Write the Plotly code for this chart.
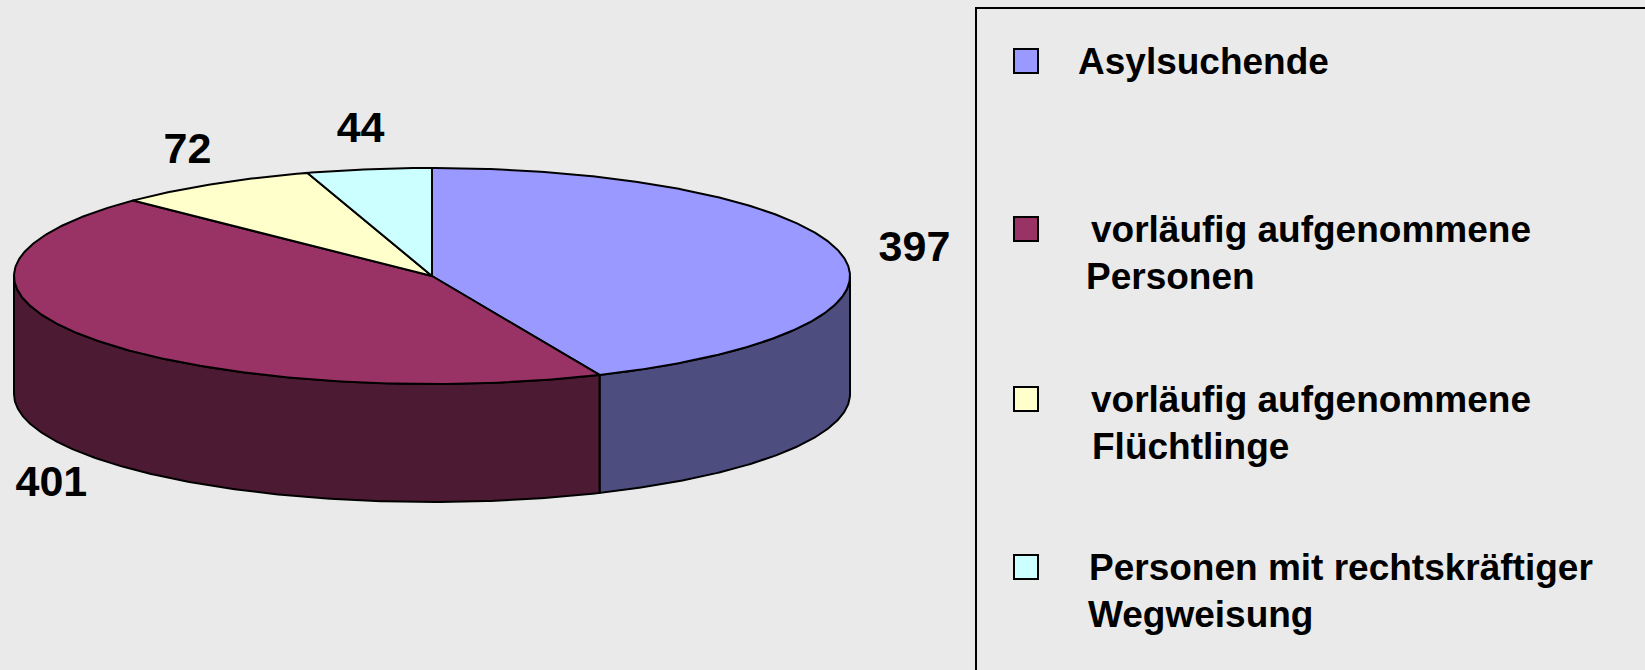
import numpy as np
import plotly.graph_objects as go

# ---- data ----
categories = ["Asylsuchende", "vorläufig aufgenommene Personen",
              "vorläufig aufgenommene Flüchtlinge", "Personen mit rechtskräftiger Wegweisung"]
values = [397, 401, 72, 44]
legend_lines = [["Asylsuchende"], ["vorläufig aufgenommene", "Personen"],
                ["vorläufig aufgenommene", "Flüchtlinge"],
                ["Personen mit rechtskräftiger", "Wegweisung"]]
top_colors = ["#9999FF", "#993366", "#FFFFCC", "#CCFFFF"]
side_colors = ["#4D4D80", "#4D1A33", "#80805F", "#668080"]

# ---- geometry (pixel space) ----
W, H = 1645, 670
CX, CY, A, B, DEPTH = 432, 276, 418, 108, 118
LABEL_DY = 5
BG = "#EAEAEA"
FONT = "Liberation Sans, Arial, sans-serif"


def pt(theta_deg, dy=0.0, kx=1.0, ky=1.0):
    t = np.radians(theta_deg)
    return CX + A * kx * np.sin(t), CY - B * ky * np.cos(t) + dy


def arc(t0, t1, dy=0.0):
    n = max(int(abs(t1 - t0) * 2), 2)
    ts = np.linspace(t0, t1, n)
    xs, ys = pt(ts, dy)
    return list(xs), list(ys)


fig = go.Figure()
total = sum(values)
cum = np.concatenate([[0], np.cumsum(values)]) / total * 360.0

# sides (front half only: 90..270 deg)
for i in range(len(values)):
    s0, s1 = max(cum[i], 90), min(cum[i + 1], 270)
    if s1 <= s0:
        continue
    xt, yt = arc(s0, s1)
    xb, yb = arc(s1, s0, DEPTH)
    fig.add_trace(go.Scatter(x=xt + xb + [xt[0]], y=yt + yb + [yt[0]], mode="lines",
                             fill="toself", fillcolor=side_colors[i],
                             line=dict(color="black", width=2), hoverinfo="skip",
                             showlegend=False))

# top faces
for i in range(len(values)):
    xa, ya = arc(cum[i], cum[i + 1])
    fig.add_trace(go.Scatter(x=[CX] + xa + [CX], y=[CY] + ya + [CY], mode="lines",
                             fill="toself", fillcolor=top_colors[i],
                             line=dict(color="black", width=2),
                             name=categories[i], showlegend=False))

# value labels
lx, ly = [], []
for i in range(len(values)):
    mid = (cum[i] + cum[i + 1]) / 2
    s = np.sin(np.radians(mid))
    x, y = pt(mid, kx=1.14 + 0.04 * s, ky=1.4)
    if np.cos(np.radians(mid)) < 0:
        y += DEPTH
    lx.append(x)
    ly.append(y + LABEL_DY)
fig.add_trace(go.Scatter(x=lx, y=ly, mode="text", text=[str(v) for v in values],
                         textfont=dict(family=FONT, size=43, color="black", weight="bold"),
                         hoverinfo="skip", showlegend=False))

# legend box
fig.add_shape(type="rect", xref="x", yref="y", x0=976, x1=W + 20, y0=8, y1=H + 20,
              line=dict(color="black", width=2), fillcolor="rgba(0,0,0,0)")
legend_y = [61, 229, 399, 567]
legend_x = [[1076], [1089, 1084], [1089, 1090], [1087, 1086]]
for i, lines in enumerate(legend_lines):
    y0 = legend_y[i]
    fig.add_shape(type="rect", xref="x", yref="y", x0=1014, x1=1038, y0=y0 - 12, y1=y0 + 12,
                  fillcolor=top_colors[i], line=dict(color="black", width=2))
    for j, txt in enumerate(lines):
        fig.add_annotation(x=legend_x[i][j], y=y0 + j * 47, xref="x", yref="y", text=txt,
                           showarrow=False, xanchor="left", yanchor="middle",
                           font=dict(family=FONT, size=37, color="black", weight="bold"))

fig.update_layout(width=W, height=H, autosize=False, margin=dict(l=0, r=0, t=0, b=0),
                  paper_bgcolor=BG, plot_bgcolor=BG, showlegend=False)
fig.update_xaxes(range=[0, W], visible=False, fixedrange=True)
fig.update_yaxes(range=[H, 0], visible=False, fixedrange=True)
fig.write_html("out.html", config={"displayModeBar": False},
               post_script="document.body.style.margin='0';document.body.style.overflow='hidden';"
                           "document.body.style.background='#EAEAEA';")
